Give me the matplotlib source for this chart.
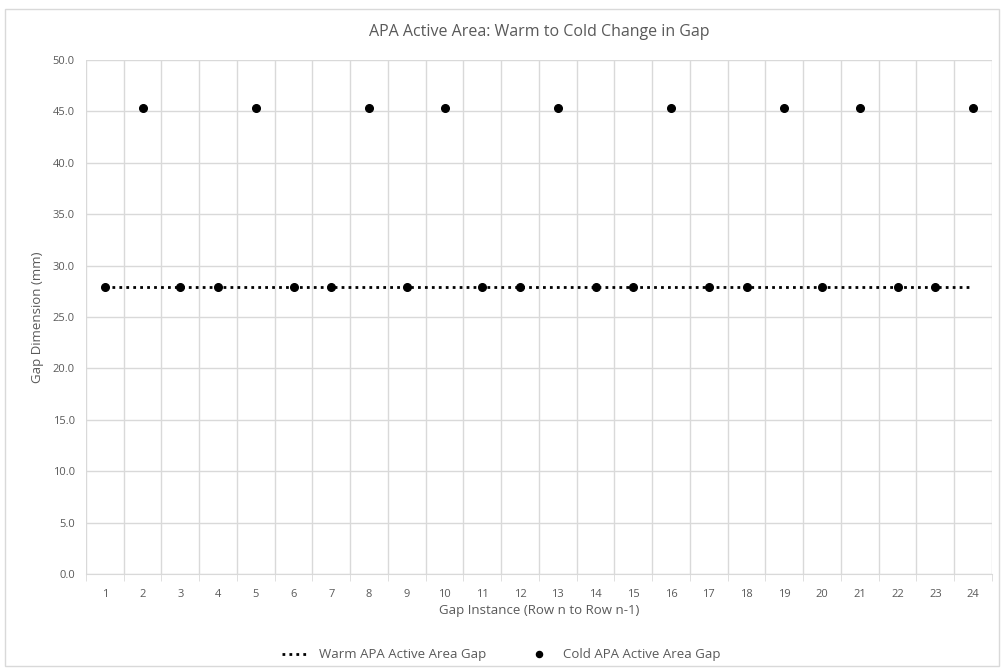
import matplotlib.pyplot as plt
from matplotlib.ticker import FormatStrFormatter, FixedLocator

plt.rcParams['font.family'] = ['Liberation Sans Narrow', 'Open Sans', 'DejaVu Sans']

gap_instance = list(range(1, 25))
warm_gap = [27.9] * 24
cold_gap = [27.9, 45.3, 27.9, 27.9, 45.3, 27.9, 27.9, 45.3, 27.9, 45.3,
            27.9, 27.9, 45.3, 27.9, 27.9, 45.3, 27.9, 27.9, 45.3, 27.9,
            45.3, 27.9, 27.9, 45.3]

fig = plt.figure(figsize=(10.02, 6.71), dpi=100)
ax = fig.add_axes([0.0858, 0.1446, 0.9042, 0.766])

# outer chart border
fig.patches.append(plt.Rectangle((0.005, 0.008), 0.992, 0.978, transform=fig.transFigure,
                                 fill=False, edgecolor='#d9d9d9', linewidth=1))

ax.plot(gap_instance, warm_gap, linestyle=(0, (1, 1.5)), color='black', linewidth=2,
        label='Warm APA Active Area Gap', zorder=3)
ax.plot(gap_instance, cold_gap, linestyle='none', marker='o', markersize=5.5,
        color='black', label='Cold APA Active Area Gap', zorder=4)

ax.set_xlim(0.5, 24.5)
ax.set_ylim(0, 50)
ax.set_yticks([i * 5 for i in range(11)])
ax.yaxis.set_major_formatter(FormatStrFormatter('%.1f'))
ax.set_xticks(gap_instance)
ax.xaxis.set_minor_locator(FixedLocator([i + 0.5 for i in range(0, 25)]))
ax.grid(True, which='major', axis='y', color='#d9d9d9', linewidth=1)
ax.grid(True, which='minor', axis='x', color='#d9d9d9', linewidth=1)
ax.set_axisbelow(True)
ax.tick_params(axis='both', which='both', length=0, labelsize=8, colors='#595959', pad=8)
ax.tick_params(axis='x', which='major', pad=11)
ax.tick_params(axis='x', which='minor', length=5, color='#d9d9d9')
for s in ['top', 'right', 'left']:
    ax.spines[s].set_visible(False)
ax.spines['bottom'].set_color('#d9d9d9')

ax.set_title('APA Active Area: Warm to Cold Change in Gap', fontsize=11.5, color='#595959', pad=17)
ax.set_xlabel('Gap Instance (Row n to Row n-1)', fontsize=9.5, color='#595959', labelpad=3)
ax.set_ylabel('Gap Dimension (mm)', fontsize=9.5, color='#595959', labelpad=6)

fig.legend(loc='center', bbox_to_anchor=(0.5, 0.024), ncol=2, frameon=False,
           fontsize=9.5, labelcolor='#595959', columnspacing=3, handlelength=2,
           markerscale=0.8)

fig.savefig('out.png', dpi=100)
